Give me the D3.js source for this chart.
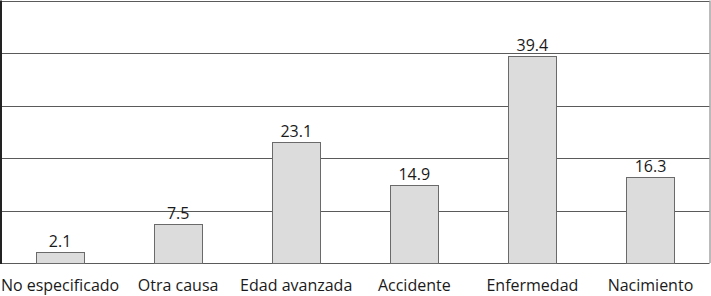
<!DOCTYPE html>
<html>
<head>
<meta charset="utf-8">
<script src="https://cdn.jsdelivr.net/npm/d3@7"></script>
<style>
  body { margin: 0; background: #fff; }
  text { font-family: "Open Sans", sans-serif; fill: #1a1a1a; }
</style>
</head>
<body>
<script>
// Chart data
const categories = ["No especificado", "Otra causa", "Edad avanzada", "Accidente", "Enfermedad", "Nacimiento"];
const values = [2.1, 7.5, 23.1, 14.9, 39.4, 16.3];
const gridTicks = [0, 10, 20, 30, 40, 50];

const width = 711, height = 296;
const margin = {top: 0.5, right: 1.5, bottom: 33, left: 1};

const svg = d3.select("body").append("svg")
    .attr("width", width)
    .attr("height", height);

const x = d3.scaleBand()
    .domain(categories)
    .range([margin.left, width - margin.right])
    .paddingInner(0.59)
    .paddingOuter(0.295);

const y = d3.scaleLinear()
    .domain([0, 50])
    .range([height - margin.bottom, margin.top]);

// horizontal grid lines
svg.append("g")
    .selectAll("line")
    .data(gridTicks)
    .join("line")
    .attr("x1", margin.left)
    .attr("x2", width - margin.right)
    .attr("y1", d => Math.round(y(d)) + 0.5)
    .attr("y2", d => Math.round(y(d)) + 0.5)
    .attr("stroke", "#5a5a5a")
    .attr("stroke-width", 1);

// right border
svg.append("line")
    .attr("x1", width - margin.right + 0.5)
    .attr("x2", width - margin.right + 0.5)
    .attr("y1", y(50))
    .attr("y2", y(0))
    .attr("stroke", "#777")
    .attr("stroke-width", 1);

// left axis
svg.append("line")
    .attr("x1", margin.left)
    .attr("x2", margin.left)
    .attr("y1", y(50))
    .attr("y2", y(0) + 1)
    .attr("stroke", "#222")
    .attr("stroke-width", 2);

// bars
svg.append("g")
    .selectAll("rect")
    .data(values)
    .join("rect")
    .attr("x", (d, i) => Math.round(x(categories[i])) + 0.5)
    .attr("y", d => Math.round(y(d)) + 0.5)
    .attr("width", Math.round(x.bandwidth()))
    .attr("height", d => Math.round(y(0)) - Math.round(y(d)))
    .attr("fill", "#dcdcdd")
    .attr("stroke", "#6a6a6a")
    .attr("stroke-width", 1);

// value labels
svg.append("g")
    .selectAll("text")
    .data(values)
    .join("text")
    .attr("x", (d, i) => x(categories[i]) + x.bandwidth() / 2)
    .attr("y", d => y(d) - 5)
    .attr("text-anchor", "middle")
    .style("font-size", "16px")
    .text(d => d.toFixed(1));

// category labels
svg.append("g")
    .selectAll("text")
    .data(categories)
    .join("text")
    .attr("x", d => x(d) + x.bandwidth() / 2)
    .attr("y", 291)
    .attr("text-anchor", "middle")
    .style("font-size", "16px")
    .text(d => d);
</script>
</body>
</html>
